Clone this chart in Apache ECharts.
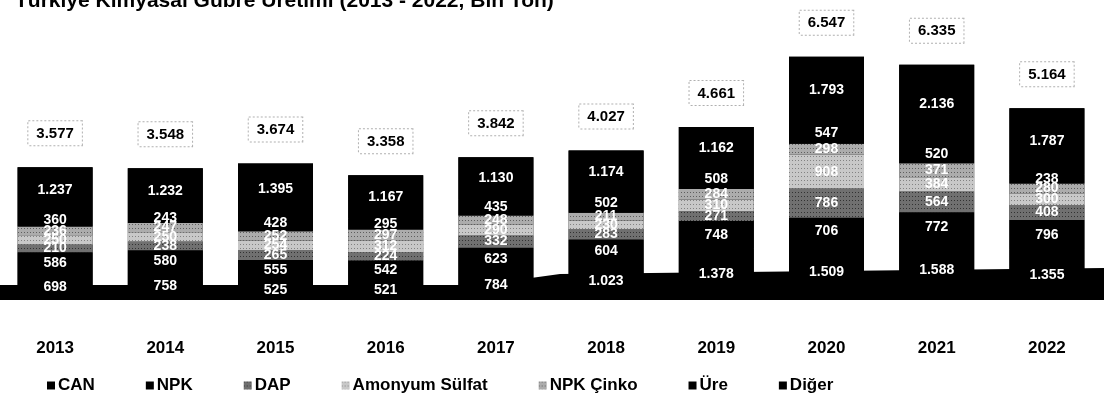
<!DOCTYPE html>
<html>
<head>
<meta charset="utf-8">
<script src="https://cdn.jsdelivr.net/npm/echarts@6/dist/echarts.min.js"></script>
<style>
  html, body { margin: 0; padding: 0; background: #fff; }
  #chart { width: 1104px; height: 405px; }
</style>
</head>
<body>
<div id="chart"></div>
<script>
// yillar ve seriler (bin ton)
var years = ['2013', '2014', '2015', '2016', '2017', '2018', '2019', '2020', '2021', '2022'];
var can = [698, 758, 525, 521, 784, 1023, 1378, 1509, 1588, 1355];
var npk = [586, 580, 555, 542, 623, 604, 748, 706, 772, 796];
var dap = [210, 238, 265, 224, 332, 283, 271, 786, 564, 408];
var amonyumSulfat = [250, 250, 254, 312, 290, 230, 310, 908, 384, 300];
var npkCinko = [236, 247, 252, 297, 248, 211, 284, 298, 371, 280];
var ure = [360, 243, 428, 295, 435, 502, 508, 547, 520, 238];
var diger = [1237, 1232, 1395, 1167, 1130, 1174, 1162, 1793, 2136, 1787];
var totals = [3577, 3548, 3674, 3358, 3842, 4027, 4661, 6547, 6335, 5164];

var FONT = '"Liberation Sans", Arial, sans-serif';

function fmt(v) {
  return String(v).replace(/\B(?=(\d{3})+(?!\d))/g, '.');
}

function decal(c) {
  return { symbol: 'rect', symbolSize: 1, color: c, dashArrayX: [1, 2], dashArrayY: [1, 3], rotation: 0 };
}

function makeSeries(name, data, color, dec) {
  var s = {
    name: name,
    type: 'bar',
    stack: 'toplam',
    barWidth: 75,
    barGap: '-100%',
    z: 3,
    data: data,
    itemStyle: { color: color },
    label: {
      show: true,
      position: 'inside',
      color: '#fff',
      fontFamily: FONT,
      fontWeight: 'bold',
      fontSize: 14,
      formatter: function (p) { return fmt(p.value); }
    }
  };
  if (dec) s.itemStyle.decal = dec;
  return s;
}

var series = [
  // toplam: arkada siyah zemin + ustte kutulu toplam etiketi
  {
    name: 'Toplam',
    type: 'bar',
    barWidth: 75,
    barGap: '-100%',
    z: 1,
    data: totals,
    itemStyle: { color: '#000' },
    label: {
      show: true,
      position: 'top',
      distance: 22,
      color: '#000',
      fontFamily: FONT,
      fontWeight: 'bold',
      fontSize: 15,
      backgroundColor: '#fff',
      borderColor: '#b0b0b0',
      borderWidth: 1,
      borderType: 'dotted',
      padding: [5, 8, 4, 8],
      formatter: function (p) { return fmt(p.value); }
    }
  },
  makeSeries('CAN', can, '#000'),
  makeSeries('NPK', npk, '#000'),
  makeSeries('DAP', dap, '#707070', decal('rgba(0,0,0,0.55)')),
  makeSeries('Amonyum Sülfat', amonyumSulfat, '#c8c8c8', decal('rgba(0,0,0,0.35)')),
  makeSeries('NPK Çinko', npkCinko, '#acacac', decal('rgba(0,0,0,0.45)')),
  makeSeries('Üre', ure, '#000'),
  makeSeries('Diğer', diger, '#000')
];

var chart = echarts.init(document.getElementById('chart'));
chart.setOption({
  animation: false,
  backgroundColor: '#fff',
  title: {
    text: 'Türkiye Kimyasal Gübre Üretimi (2013 - 2022, Bin Ton)',
    left: 10,
    top: -14,
    textStyle: { fontFamily: FONT, fontWeight: 'bold', fontSize: 21, color: '#000' }
  },
  legend: {
    data: ['CAN', 'NPK', 'DAP', 'Amonyum Sülfat', 'NPK Çinko', 'Üre', 'Diğer'],
    left: 42,
    top: 372,
    itemWidth: 8,
    itemHeight: 8,
    itemGap: 51,
    icon: 'rect',
    textStyle: { fontFamily: FONT, fontWeight: 'bold', fontSize: 17, color: '#000', padding: [0, 0, 0, -2] }
  },
  grid: { left: -7, right: 2, top: 40, bottom: 105 },
  xAxis: {
    type: 'category',
    data: years,
    axisTick: { show: false },
    axisLine: { show: false },
    axisLabel: { margin: 40, fontFamily: FONT, fontWeight: 'bold', fontSize: 17, color: '#000' }
  },
  yAxis: {
    type: 'value',
    min: 0,
    max: 7000,
    show: false,
    splitLine: { show: false }
  },
  graphic: [{
    type: 'polygon',
    z: -1,
    shape: { points: [[0, 285], [480, 285], [560, 274], [1104, 268], [1104, 300], [0, 300]] },
    style: { fill: '#000' }
  }],
  series: series
});
</script>
</body>
</html>
